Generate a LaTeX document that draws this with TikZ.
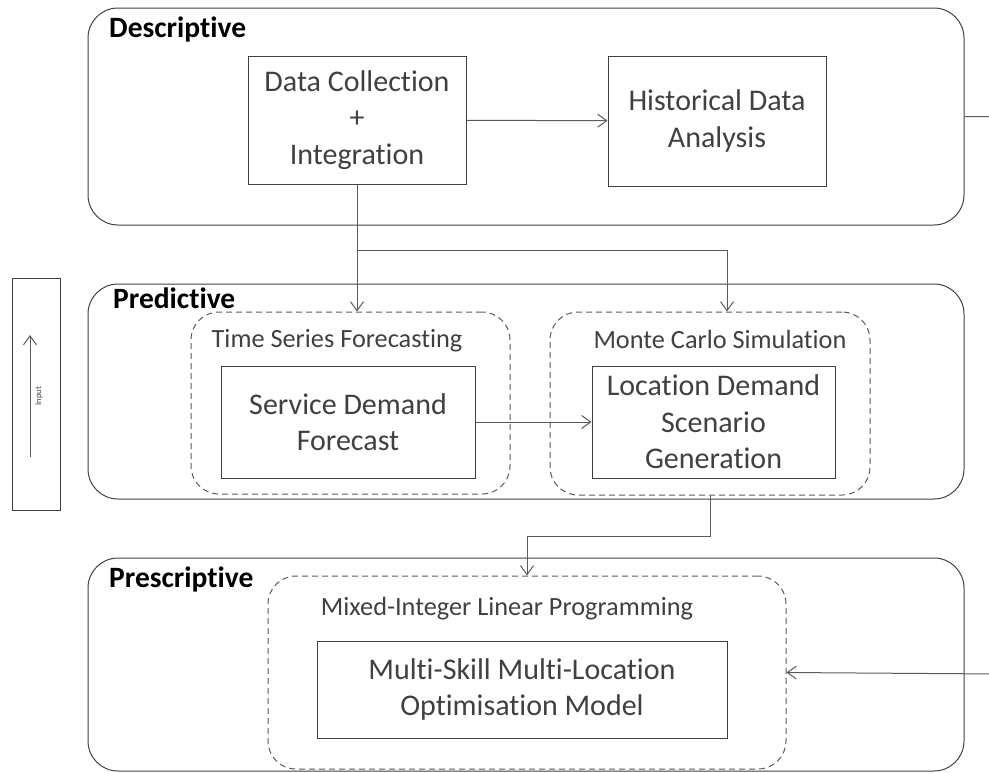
\documentclass[tikz,border=0pt]{standalone}
\usepackage{fontspec}
\setmainfont{Carlito}[RawFeature={-liga;-clig;-dlig;-calt}]
\usetikzlibrary{arrows.meta}

\definecolor{ink}{HTML}{404040}
\definecolor{wire}{HTML}{5A5A5A}

\tikzset{
  stage/.style={draw=ink, line width=1pt, rounded corners=30pt, inner sep=0pt},
  method/.style={draw=wire, line width=1pt, dash pattern=on 6pt off 4pt,
                 rounded corners=28pt, inner sep=0pt},
  taskbox/.style={draw=ink, line width=1pt, inner sep=0pt, align=center,
                  text=ink, font=\fontsize{30}{36.5}\selectfont},
  stagelabel/.style={anchor=base west, inner sep=0pt, font=\bfseries\fontsize{29.5}{35}\selectfont},
  methodlabel/.style={inner sep=0pt, text=ink, font=\fontsize{26.3}{31}\selectfont},
  flow/.style={draw=wire, line width=1pt, -{Straight Barb[length=9pt,width=13pt]}}
}

\begin{document}
\begin{tikzpicture}[x=1pt, y=-1pt]
\useasboundingbox (0,0) rectangle (989,772);
\clip (0,0) rectangle (989,772);

% analytics stages
\node[stage, minimum width=876pt, minimum height=217pt] (desc)  at (526,116.5) {};
\node[stage, minimum width=876pt, minimum height=215pt] (pred)  at (526,391.5) {};
\node[stage, minimum width=876pt, minimum height=213pt] (presc) at (526,664.5) {};

\node[stagelabel] (ldesc)  at (109,37)  {Descriptive};
\node[stagelabel] (lpred)  at (113,308) {Predictive};
\node[stagelabel] (lpresc) at (109,587) {Prescriptive};

% methods (dashed groups)
\node[method, minimum width=319pt, minimum height=182pt] (tsf)  at (350.5,403) {};
\node[method, minimum width=320pt, minimum height=183pt] (mcs)  at (710,403.5) {};
\node[method, minimum width=518pt, minimum height=193pt] (milp) at (527,672.5) {};

\node[methodlabel] (ltsf)  at (337,341) {Time Series Forecasting};
\node[methodlabel] (lmcs)  at (720,339) {Monte Carlo Simulation};
\node[methodlabel] (lmilp) at (507,609) {Mixed-Integer Linear Programming};

% tasks
\node[taskbox, minimum width=218pt, minimum height=128pt] (dc)  at (357,120)
  {Data Collection\\+\\Integration};
\node[taskbox, minimum width=218pt, minimum height=130pt] (hda) at (717,121)
  {Historical Data\\Analysis};
\node[taskbox, minimum width=254pt, minimum height=112pt] (sdf) at (348,422)
  {Service Demand\\Forecast};
\node[taskbox, minimum width=243pt, minimum height=112pt] (lds) at (713.5,422)
  {Location Demand\\Scenario\\Generation};
\node[taskbox, minimum width=410pt, minimum height=97pt]  (msm) at (522,689.5)
  {Multi-Skill Multi-Location\\Optimisation Model};

% input legend
\node[draw=ink, line width=1pt, minimum width=48pt, minimum height=232pt, inner sep=0pt] (inbox) at (36,394) {};
\coordinate (inlow)  at (30,457);
\coordinate (inhigh) at (30,335);
\draw[flow] (inlow) -- (inhigh);
\node[rotate=90, inner sep=0pt, text=ink, font=\fontsize{8.5}{10}\selectfont] (inlabel) at (39,396) {Input};

% connectors
\coordinate (split) at (357,250);
\coordinate (splitr) at (727,250);
\coordinate (drop) at (527,536);
\coordinate (rimtop) at (1000,116.5);
\coordinate (rimbot) at (1000,674);

\draw[flow] (dc) -- (hda);
\draw[flow] (dc.south) -- (dc.south |- tsf.north);
\draw[flow] (split) -- (splitr) -- (splitr |- mcs.north);
\draw[flow] (sdf) -- (lds);
\draw[flow] (mcs.south) |- (drop) -- (milp.north);
\draw[flow] (desc.east) -- (rimtop) -- (rimbot) -- (milp.east);
\end{tikzpicture}
\end{document}
